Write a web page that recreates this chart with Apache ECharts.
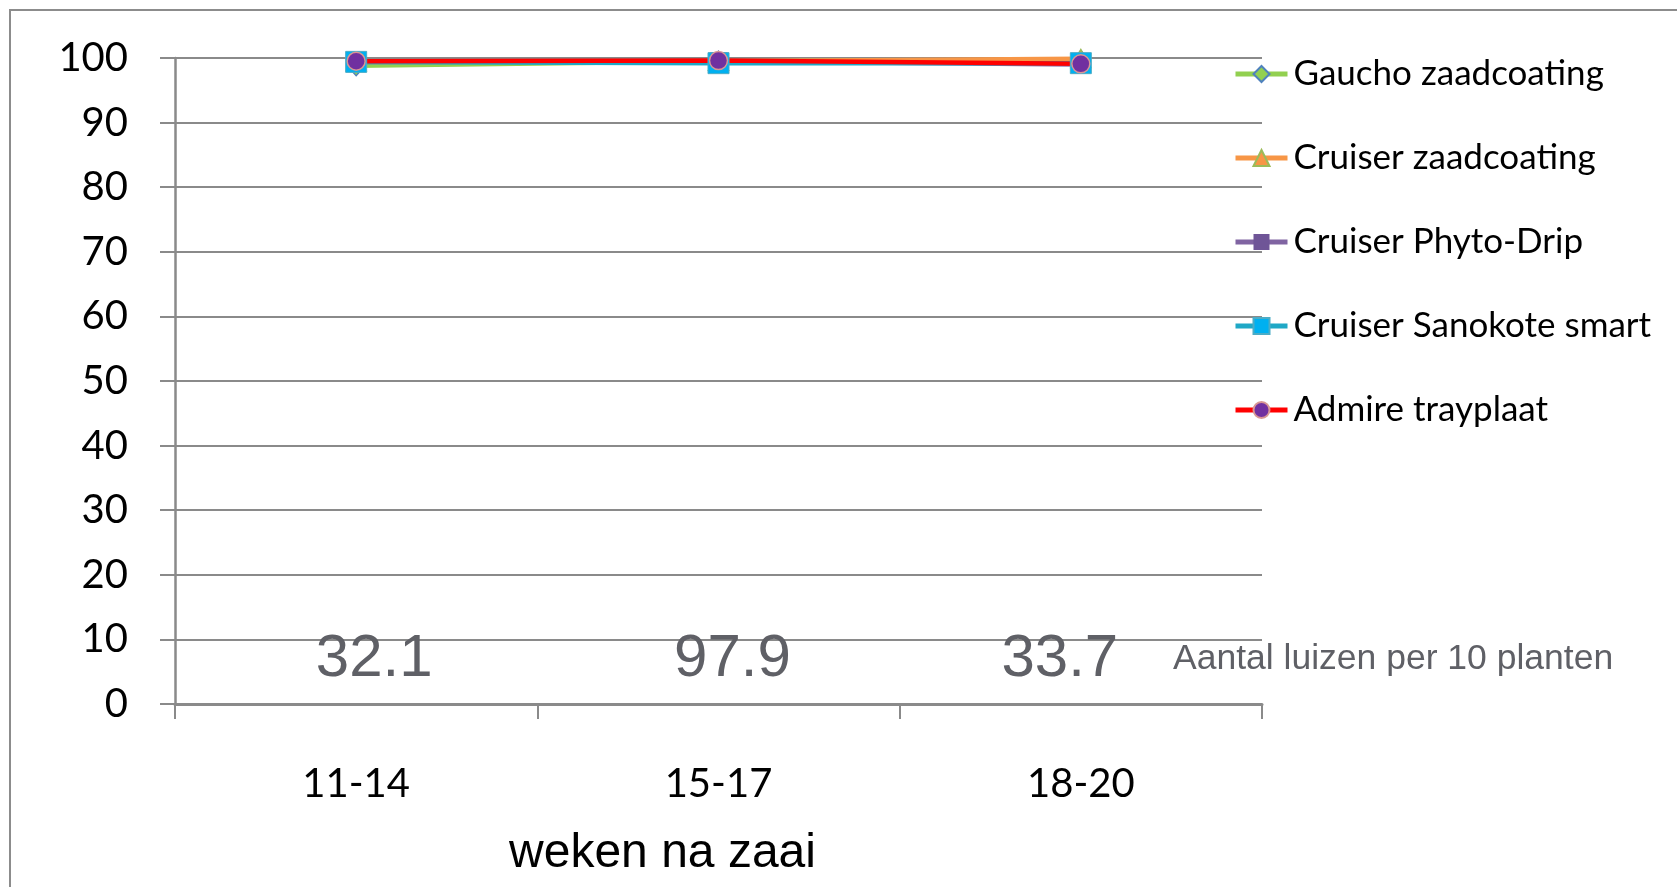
<!DOCTYPE html>
<html><head><meta charset="utf-8">
<script src="https://cdn.jsdelivr.net/npm/echarts@6/dist/echarts.min.js"></script>
<style>html,body{margin:0;padding:0;background:#fff}#c{width:1677px;height:887px}</style>
</head><body><div id="c"></div>
<script>
const categories = ['11-14', '15-17', '18-20'];
const gaucho = [98.8, 99.5, 99.6];
const cruiserCoating = [99.4, 99.5, 99.9];
const phytoDrip = [99.4, 99.5, 99.0];
const sanokote = [99.4, 99.2, 99.2];
const admire = [99.5, 99.6, 99.1];
const luizen = ['32.1', '97.9', '33.7'];
const seriesNames = ['Gaucho zaadcoating', 'Cruiser zaadcoating', 'Cruiser Phyto-Drip', 'Cruiser Sanokote smart', 'Admire trayplaat'];
const luizenName = 'Aantal luizen per 10 planten';
const xTitle = 'weken na zaai';

const chart = echarts.init(document.getElementById('c'), null, {renderer: 'canvas'});
function mk(name, data, lineColor, symbol, size, fill, border, bw) {
  return {
    name: name, type: 'line', data: data, xAxisIndex: 0, yAxisIndex: 0,
    symbol: symbol, symbolSize: size, showAllSymbol: true,
    lineStyle: {color: lineColor, width: 4.5},
    itemStyle: {color: fill, borderColor: border, borderWidth: bw},
    emphasis: {disabled: true}, animation: false
  };
}
const grey = '#8a8a8a';
const numStyle = {fontFamily: 'Liberation Sans', fontSize: 60, color: '#5f6066'};
const option = {
  backgroundColor: '#ffffff',
  animation: false,
  graphic: [{type: 'rect', shape: {x: 10, y: 10, width: 1720, height: 940}, style: {fill: 'none', stroke: '#8c8c8c', lineWidth: 2}, z: -10}],
  grid: {left: 175, right: 415, top: 58, bottom: 183, containLabel: false},
  legend: {
    orient: 'vertical', left: 1233, top: 54, padding: 0, itemGap: 44, itemWidth: 52, itemHeight: 20,
    lineStyle: {width: 5},
    textStyle: {fontFamily: 'Lato', fontSize: 35, color: '#000', lineHeight: 40, padding: [0, 0, 0, 1]},
    data: seriesNames
  },
  xAxis: [{
    type: 'category', data: categories, boundaryGap: true,
    axisLine: {show: true, lineStyle: {color: grey, width: 3}},
    axisTick: {show: true, length: 15, lineStyle: {color: grey, width: 2}},
    axisLabel: {fontFamily: 'Lato', fontSize: 40, color: '#000', margin: 60},
    name: xTitle, nameLocation: 'middle', nameGap: 126,
    nameTextStyle: {fontFamily: 'Liberation Sans', fontSize: 48, color: '#000', padding: [0, 112, 0, 0]}
  }, {
    type: 'category', data: luizen, position: 'bottom', offset: -45, boundaryGap: true,
    axisLine: {show: false}, axisTick: {show: false},
    axisLabel: {
      margin: 0, verticalAlign: 'middle',
      formatter: function (v, i) { return '{p' + i + '|' + v + '}'; },
      rich: {
        p0: Object.assign({padding: [0, 0, 0, 36]}, numStyle),
        p1: Object.assign({padding: [0, 0, 0, 28]}, numStyle),
        p2: Object.assign({padding: [0, 42, 0, 0]}, numStyle)
      }
    },
    name: luizenName, nameLocation: 'end', nameGap: -89,
    nameTextStyle: {fontFamily: 'Liberation Sans', fontSize: 35.5, color: '#5f6066', align: 'left', verticalAlign: 'middle', padding: [36, 0, 0, 0]}
  }],
  yAxis: [{
    type: 'value', min: 0, max: 100, interval: 10,
    axisLine: {show: true, lineStyle: {color: grey, width: 2.5}},
    axisTick: {show: true, length: 15, lineStyle: {color: grey, width: 2}},
    axisLabel: {fontFamily: 'Lato', fontSize: 40, color: '#000', margin: 47},
    splitLine: {show: true, lineStyle: {color: grey, width: 2}}
  }],
  series: [
    mk(seriesNames[0], gaucho, '#92d050', 'diamond', [18, 20], '#92d050', '#4f81bd', 1.5),
    mk(seriesNames[1], cruiserCoating, '#f79646', 'triangle', [20, 18], '#f79646', '#9bbb59', 1.5),
    mk(seriesNames[2], phytoDrip, '#8064a2', 'rect', 18, '#6f5597', '#6f5597', 0),
    mk(seriesNames[3], sanokote, '#1fa8c6', 'rect', 21, '#00b0f0', '#4bacc6', 1),
    mk(seriesNames[4], admire, '#ff0000', 'circle', 18, '#7030a0', '#d99694', 1.5)
  ]
};
chart.setOption(option);
</script></body></html>
